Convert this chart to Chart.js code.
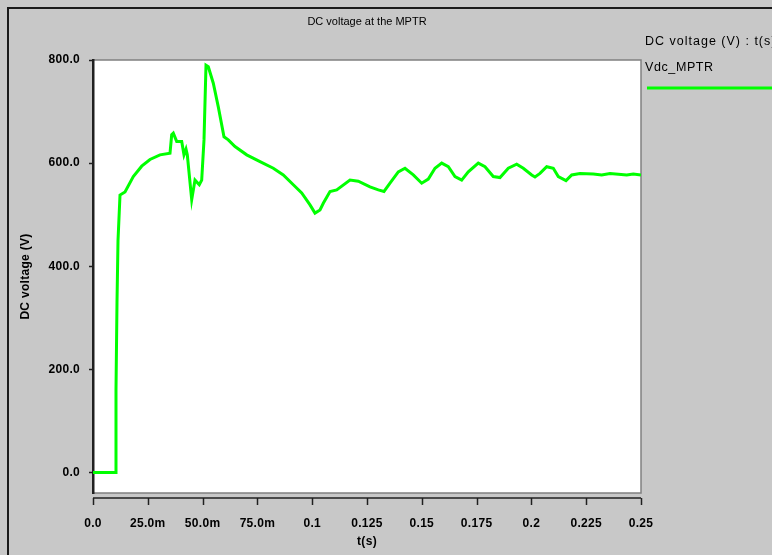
<!DOCTYPE html>
<html>
<head>
<meta charset="utf-8">
<script src="https://cdn.jsdelivr.net/npm/chart.js@4.4.1/dist/chart.umd.min.js"></script>
<style>
  body { margin: 0; background: #c8c8c8; }
  canvas { display: block; }
</style>
</head>
<body>
<canvas id="grafico" width="772" height="555"></canvas>
<script>
// simulation output
var tempo = [0, 0.01004, 0.01049, 0.01095, 0.01141, 0.01232, 0.01460, 0.01838, 0.02222, 0.02600,
  0.03057, 0.03513, 0.03590, 0.03663, 0.03818, 0.04047, 0.04151, 0.04243, 0.04302, 0.04503,
  0.04653, 0.04849, 0.04959, 0.05064, 0.05155, 0.05260, 0.05488, 0.05716, 0.05976, 0.06172,
  0.06478, 0.07012, 0.07619, 0.08225, 0.08681, 0.09138, 0.09521, 0.09900, 0.10128, 0.10356,
  0.10506, 0.10812, 0.11118, 0.11724, 0.12103, 0.12637, 0.13016, 0.13275, 0.13549, 0.13928,
  0.14233, 0.14612, 0.14995, 0.15296, 0.15602, 0.15908, 0.16209, 0.16515, 0.16820, 0.17121,
  0.17577, 0.17883, 0.18261, 0.18567, 0.18946, 0.19329, 0.19630, 0.20014, 0.20164, 0.20392,
  0.20698, 0.20999, 0.21227, 0.21579, 0.21839, 0.22217, 0.22824, 0.23207, 0.23586, 0.24348,
  0.24649, 0.25];
var vdc = [0, 0, 160, 330, 450, 538, 544, 574, 594, 607,
  616, 619, 655, 658, 642, 642, 616, 627, 616, 529,
  567, 558, 567, 645, 790, 787, 755, 709, 651, 645,
  632, 616, 603, 590, 577, 558, 542, 519, 503, 509,
  522, 545, 548, 567, 565, 554, 548, 545, 561, 583,
  590, 577, 561, 569, 590, 600, 593, 574, 567, 583,
  600, 593, 574, 572, 590, 598, 590, 577, 573, 580,
  593, 590, 574, 566, 577, 580, 579, 577, 580, 577,
  579, 577];

var xTicks = [0, 0.025, 0.05, 0.075, 0.1, 0.125, 0.15, 0.175, 0.2, 0.225, 0.25];
var xLabels = ['0.0', '25.0m', '50.0m', '75.0m', '0.1', '0.125', '0.15', '0.175', '0.2', '0.225', '0.25'];
var yTicks = [0, 200, 400, 600, 800];
var yLabels = ['0.0', '200.0', '400.0', '600.0', '800.0'];

var titulo = 'DC voltage at the MPTR';
var legendaTitulo = 'DC voltage (V) : t(s)';
var nomeSerie = 'Vdc_MPTR';
var corSerie = '#00ff00';

var pontos = [];
for (var i = 0; i < tempo.length; i++) {
  pontos.push({ x: tempo[i], y: vdc[i] });
}

var fonteEixo = { family: 'Liberation Sans', size: 12, weight: 'bold' };

var fundo = {
  id: 'fundo',
  beforeDraw: function (chart) {
    var ctx = chart.ctx;
    var a = chart.chartArea;
    ctx.save();
    ctx.fillStyle = '#c8c8c8';
    ctx.fillRect(0, 0, chart.width, chart.height);
    // window frame
    ctx.strokeStyle = '#1a1a1a';
    ctx.lineWidth = 2;
    ctx.beginPath();
    ctx.moveTo(8, chart.height);
    ctx.lineTo(8, 8);
    ctx.lineTo(chart.width, 8);
    ctx.stroke();
    // plot box
    ctx.fillStyle = '#ffffff';
    ctx.fillRect(a.left, a.top, a.right - a.left, a.bottom - a.top);
    ctx.strokeStyle = '#808080';
    ctx.lineWidth = 1.5;
    ctx.strokeRect(a.left, a.top, a.right - a.left, a.bottom - a.top);
    ctx.restore();
    ctx.letterSpacing = '0.3px';
  },
  afterDraw: function (chart) {
    var ctx = chart.ctx;
    var a = chart.chartArea;
    var sx = chart.scales.x;
    ctx.save();
    // detached time axis
    ctx.strokeStyle = '#202020';
    ctx.lineWidth = 1.5;
    ctx.beginPath();
    ctx.moveTo(a.left, a.bottom + 5);
    ctx.lineTo(a.right, a.bottom + 5);
    xTicks.forEach(function (t) {
      var px = Math.round(sx.getPixelForValue(t)) + 0.5;
      ctx.moveTo(px, a.bottom + 5);
      ctx.lineTo(px, a.bottom + 12);
    });
    ctx.stroke();
    // title
    ctx.fillStyle = '#000';
    ctx.letterSpacing = '0px';
    ctx.font = '11px "Liberation Sans"';
    ctx.textAlign = 'center';
    ctx.textBaseline = 'middle';
    ctx.fillText(titulo, (a.left + a.right) / 2, 22);
    // legend
    ctx.letterSpacing = '1px';
    ctx.font = '12.5px "Liberation Sans"';
    ctx.textAlign = 'left';
    ctx.fillText(legendaTitulo, 645, 42);
    ctx.letterSpacing = '0.6px';
    ctx.fillText(nomeSerie, 645, 68);
    ctx.strokeStyle = corSerie;
    ctx.lineWidth = 3;
    ctx.beginPath();
    ctx.moveTo(647, 88);
    ctx.lineTo(chart.width, 88);
    ctx.stroke();
    ctx.restore();
  }
};

var chart = new Chart(document.getElementById('grafico').getContext('2d'), {
  type: 'line',
  data: {
    datasets: [{
      label: nomeSerie,
      data: pontos,
      borderColor: corSerie,
      backgroundColor: 'transparent',
      borderWidth: 3,
      pointRadius: 0,
      tension: 0
    }]
  },
  options: {
    responsive: false,
    animation: false,
    layout: { padding: { left: 0, top: 60, right: 131, bottom: 0 } },
    plugins: {
      legend: { display: false },
      title: { display: false },
      tooltip: { enabled: false }
    },
    scales: {
      x: {
        type: 'linear',
        min: 0,
        max: 0.25,
        afterFit: function (s) { s.height = 62; },
        afterBuildTicks: function (s) {
          s.ticks = xTicks.map(function (v) { return { value: v }; });
        },
        grid: { display: false },
        border: { display: false },
        ticks: {
          padding: 15,
          maxRotation: 0,
          autoSkip: false,
          color: '#000',
          font: fonteEixo,
          callback: function (v, i) { return xLabels[i]; }
        },
        title: {
          display: true,
          text: 't(s)',
          color: '#000',
          font: fonteEixo,
          padding: { top: 0, bottom: 6 }
        }
      },
      y: {
        min: -40,
        max: 800,
        afterFit: function (s) { s.width = 93; },
        afterBuildTicks: function (s) {
          s.ticks = yTicks.map(function (v) { return { value: v }; });
        },
        grid: { drawOnChartArea: false, tickLength: 4, color: '#202020', tickWidth: 1.5 },
        border: { display: true, color: '#202020', width: 2.5 },
        ticks: {
          padding: 9,
          color: '#000',
          font: fonteEixo,
          callback: function (v, i) { return yLabels[i]; }
        },
        title: {
          display: true,
          text: 'DC voltage (V)',
          color: '#000',
          font: fonteEixo,
          padding: { top: 18, bottom: 0 }
        }
      }
    }
  },
  plugins: [fundo]
});
</script>
</body>
</html>
